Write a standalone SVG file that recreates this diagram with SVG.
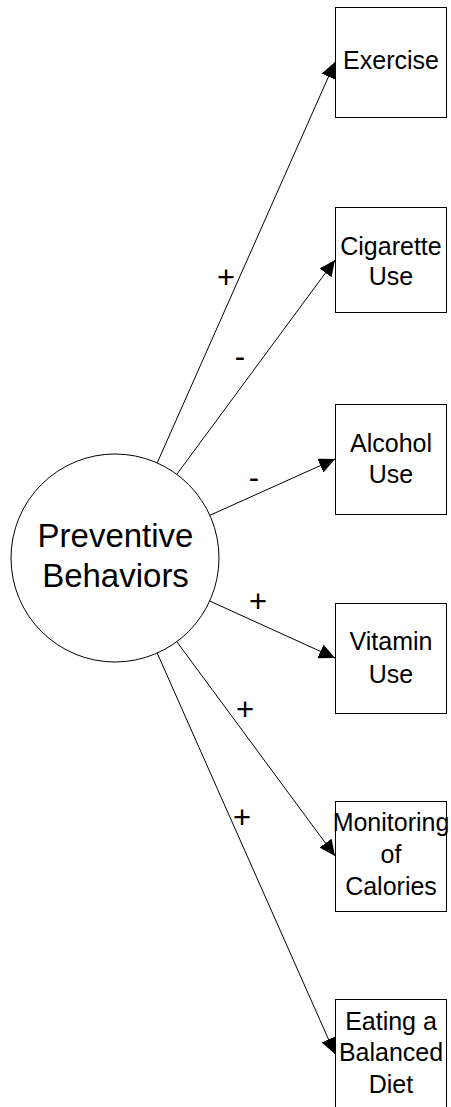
<svg xmlns="http://www.w3.org/2000/svg" width="451" height="1107" viewBox="0 0 451 1107">
  <style>
    .box { fill: #fff; stroke: #000; stroke-width: 1; }
    .hub { fill: #fff; stroke: #000; stroke-width: 1; }
    .edge { stroke: #000; stroke-width: 1; fill: none; marker-end: url(#arrow); }
    .lbl { font-family: "Liberation Sans", Arial, sans-serif; font-size: 25px; fill: #000; text-anchor: middle; }
    .hubtxt { font-family: "Liberation Sans", Arial, sans-serif; font-size: 33px; fill: #000; text-anchor: middle; }
    .sign { font-family: "Liberation Sans", Arial, sans-serif; font-size: 31px; fill: #000; text-anchor: middle; }
  </style>
  <defs>
    <marker id="arrow" markerUnits="userSpaceOnUse" markerWidth="18" markerHeight="16" refX="16" refY="7.5" orient="auto">
      <path d="M0,0 L16,7.5 L0,15 Z" fill="#000"/>
    </marker>
  </defs>
  <rect width="451" height="1107" fill="#fff"/>

  <!-- connectors: radial paths from the hub to each indicator box -->
  <g id="connectors">
    <line class="edge" x1="157.2" y1="462.9" x2="335" y2="62"/>
    <line class="edge" x1="176.8" y1="474.3" x2="335" y2="260"/>
    <line class="edge" x1="209.9" y1="515.3" x2="335" y2="459"/>
    <line class="edge" x1="209.7" y1="601.0" x2="335" y2="658"/>
    <line class="edge" x1="176.8" y1="641.7" x2="335" y2="856"/>
    <line class="edge" x1="157.2" y1="653.1" x2="335" y2="1054"/>
    <text class="sign" x="226" y="288">+</text>
    <text class="sign" x="240" y="367">-</text>
    <text class="sign" x="254" y="488">-</text>
    <text class="sign" x="258" y="612">+</text>
    <text class="sign" x="245" y="720">+</text>
    <text class="sign" x="242" y="828">+</text>
  </g>

  <g id="preventive-behaviors">
    <circle class="hub" cx="115" cy="558" r="104"/>
    <text class="hubtxt" x="115.5" y="547">Preventive</text>
    <text class="hubtxt" x="115.5" y="587">Behaviors</text>
  </g>

  <g id="exercise">
    <rect class="box" x="335.5" y="7.5" width="111" height="110"/>
    <text class="lbl" x="391" y="69">Exercise</text>
  </g>

  <g id="cigarette-use">
    <rect class="box" x="335.5" y="207.5" width="111" height="105"/>
    <text class="lbl" x="391" y="255">Cigarette</text>
    <text class="lbl" x="391" y="285">Use</text>
  </g>

  <g id="alcohol-use">
    <rect class="box" x="335.5" y="404.5" width="111" height="110"/>
    <text class="lbl" x="391" y="452">Alcohol</text>
    <text class="lbl" x="391" y="483">Use</text>
  </g>

  <g id="vitamin-use">
    <rect class="box" x="335.5" y="603.5" width="111" height="110"/>
    <text class="lbl" x="391" y="650">Vitamin</text>
    <text class="lbl" x="391" y="683">Use</text>
  </g>

  <g id="monitoring-of-calories">
    <rect class="box" x="335.5" y="801.5" width="111" height="110"/>
    <text class="lbl" x="391" y="831">Monitoring</text>
    <text class="lbl" x="391" y="863">of</text>
    <text class="lbl" x="391" y="895">Calories</text>
  </g>

  <g id="eating-a-balanced-diet">
    <rect class="box" x="335.5" y="999.5" width="111" height="110"/>
    <text class="lbl" x="391" y="1030">Eating a</text>
    <text class="lbl" x="391" y="1061">Balanced</text>
    <text class="lbl" x="391" y="1093">Diet</text>
  </g>
</svg>
